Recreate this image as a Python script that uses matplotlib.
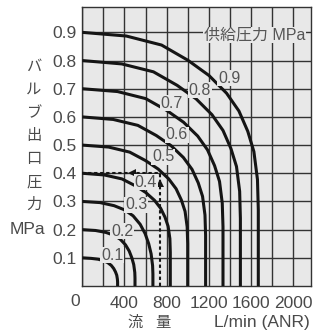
import matplotlib
matplotlib.use("Agg")
import matplotlib.pyplot as plt

# ---------------- data ----------------
supply_labels = ["0.1", "0.2", "0.3", "0.4", "0.5", "0.6", "0.7", "0.8", "0.9"]

flow_01 = [0, 84, 151, 201, 241, 275, 298, 315, 327, 333, 335, 335]
pres_01 = [0.100, 0.098, 0.095, 0.090, 0.083, 0.073, 0.062, 0.050, 0.038, 0.024, 0.014, 0]
flow_02 = [0, 125, 225, 300, 360, 410, 445, 470, 488, 498, 500, 500]
pres_02 = [0.200, 0.197, 0.190, 0.180, 0.166, 0.146, 0.124, 0.100, 0.076, 0.048, 0.028, 0]
flow_03 = [0, 168, 302, 402, 482, 549, 596, 630, 653, 667, 670, 670]
pres_03 = [0.300, 0.296, 0.285, 0.270, 0.249, 0.219, 0.186, 0.150, 0.114, 0.072, 0.042, 0]
flow_04 = [0, 209, 376, 501, 601, 685, 743, 785, 814, 831, 835, 835]
pres_04 = [0.400, 0.394, 0.380, 0.356, 0.332, 0.304, 0.276, 0.244, 0.212, 0.168, 0.120, 0]
flow_05 = [0, 250, 450, 600, 720, 820, 890, 940, 975, 995, 1000, 1000]
pres_05 = [0.500, 0.493, 0.475, 0.445, 0.415, 0.380, 0.345, 0.305, 0.265, 0.210, 0.150, 0]
flow_06 = [0, 293, 527, 702, 842, 959, 1041, 1100, 1141, 1164, 1170, 1170]
pres_06 = [0.600, 0.591, 0.570, 0.534, 0.498, 0.456, 0.414, 0.366, 0.318, 0.252, 0.180, 0]
flow_07 = [0, 334, 601, 801, 961, 1095, 1188, 1255, 1302, 1328, 1335, 1335]
pres_07 = [0.700, 0.690, 0.665, 0.623, 0.581, 0.532, 0.483, 0.427, 0.371, 0.294, 0.210, 0]
flow_08 = [0, 375, 675, 900, 1080, 1230, 1335, 1410, 1463, 1493, 1500, 1500]
pres_08 = [0.800, 0.788, 0.760, 0.712, 0.664, 0.608, 0.552, 0.488, 0.424, 0.336, 0.240, 0]
flow_09 = [0, 418, 752, 1002, 1202, 1369, 1486, 1570, 1628, 1662, 1670, 1670]
pres_09 = [0.900, 0.887, 0.855, 0.801, 0.747, 0.684, 0.621, 0.549, 0.477, 0.378, 0.270, 0]

label_flow = [282, 377, 510, 604, 766, 898, 851, 1117, 1392]
label_pres = [0.110, 0.195, 0.288, 0.369, 0.458, 0.536, 0.649, 0.695, 0.738]

example_flow = 740
example_pres = 0.40
arrow_left_flow = 470
arrow_up_pres = 0.366

x_ticks = [0, 200, 400, 600, 800, 1000, 1200, 1400, 1600, 1800, 2000]
x_ticklabels = ["", "", "400", "", "800", "", "1200", "", "1600", "", "2000"]
y_ticks = [0.1, 0.2, 0.3, 0.4, 0.5, 0.6, 0.7, 0.8, 0.9]
y_ticklabels = ["0.1", "0.2", "0.3", "0.4", "0.5", "0.6", "0.7", "0.8", "0.9"]

ylabel_chars = ["バ", "ル", "ブ", "出", "口", "圧", "力"]

# ---------------- style ----------------
FAM = ["Liberation Sans", "Noto Sans CJK JP", "DejaVu Sans"]
plt.rcParams["font.family"] = FAM
BG = "#e8e8e8"
GRID = "#333333"
TXT = "#4a4a4a"
W, H = 315, 333

fig = plt.figure(figsize=(W / 100, H / 100), dpi=100)
fig.patch.set_facecolor("white")
L, R, T, B = 82.3, 311, 7, 286
ax = fig.add_axes([L / W, 1 - B / H, (R - L) / W, (B - T) / H])
ax.set_facecolor(BG)
ax.set_xlim(0, 2170)
ax.set_ylim(0, 0.99)

ax.set_xticks(x_ticks)
ax.set_xticklabels(x_ticklabels)
ax.set_yticks(y_ticks)
ax.set_yticklabels(y_ticklabels)
ax.tick_params(length=0, labelsize=12.5, labelcolor=TXT, pad=4)
ax.tick_params(axis="x", pad=7)
ax.grid(True, color=GRID, linewidth=1.0, zorder=1)
ax.set_axisbelow(True)
for s in ax.spines.values():
    s.set_color(GRID)
    s.set_linewidth(1.0)

curves = [(flow_01, pres_01), (flow_02, pres_02), (flow_03, pres_03),
          (flow_04, pres_04), (flow_05, pres_05), (flow_06, pres_06),
          (flow_07, pres_07), (flow_08, pres_08), (flow_09, pres_09)]
for fl, pr in curves:
    ax.plot(fl, pr, color="#151515", linewidth=2.2, solid_capstyle="butt",
            solid_joinstyle="round", zorder=3)

# example dashed lines with arrows
ln1, = ax.plot([0, example_flow], [example_pres, example_pres], color="#151515",
               linewidth=1.5, zorder=3.5)
ln1.set_dashes((1.6, 1.3))
ln2, = ax.plot([example_flow, example_flow], [0, example_pres], color="#151515",
               linewidth=1.5, zorder=3.5)
ln2.set_dashes((1.6, 1.3))
ax.plot([arrow_left_flow], [example_pres], marker="<", markersize=6,
        color="#151515", markeredgewidth=0, zorder=4)
ax.plot([example_flow], [arrow_up_pres], marker="^", markersize=6,
        color="#151515", markeredgewidth=0, zorder=4)

for lab, fx, py in zip(supply_labels, label_flow, label_pres):
    ax.text(fx, py, lab, fontsize=11.5, color="#555555", ha="center", va="center",
            zorder=5, bbox=dict(facecolor=BG, edgecolor="none", pad=0.3))

ax.text(1637, 0.891, "供給圧力 MPa", fontsize=11.5, color="#555555",
        ha="center", va="center", zorder=5,
        bbox=dict(facecolor=BG, edgecolor="none", pad=0.5))

def ftext(x, y, s, **kw):
    fig.text(x / W, 1 - y / H, s, **kw)

ftext(75, 302, "0", fontsize=12.5, color=TXT, ha="center", va="center")

for i, ch in enumerate(ylabel_chars):
    ftext(34, 67 + 23 * i, ch, fontsize=11, color=TXT, ha="center", va="center")
ftext(27, 229, "MPa", fontsize=12.5, color=TXT, ha="center", va="center")

ftext(135, 323, "流", fontsize=11, color=TXT, ha="center", va="center")
ftext(163, 323, "量", fontsize=11, color=TXT, ha="center", va="center")
ftext(262, 323, "L/min (ANR)", fontsize=12.5, color=TXT, ha="center", va="center")

fig.savefig("out.png", dpi=100, facecolor="white")
